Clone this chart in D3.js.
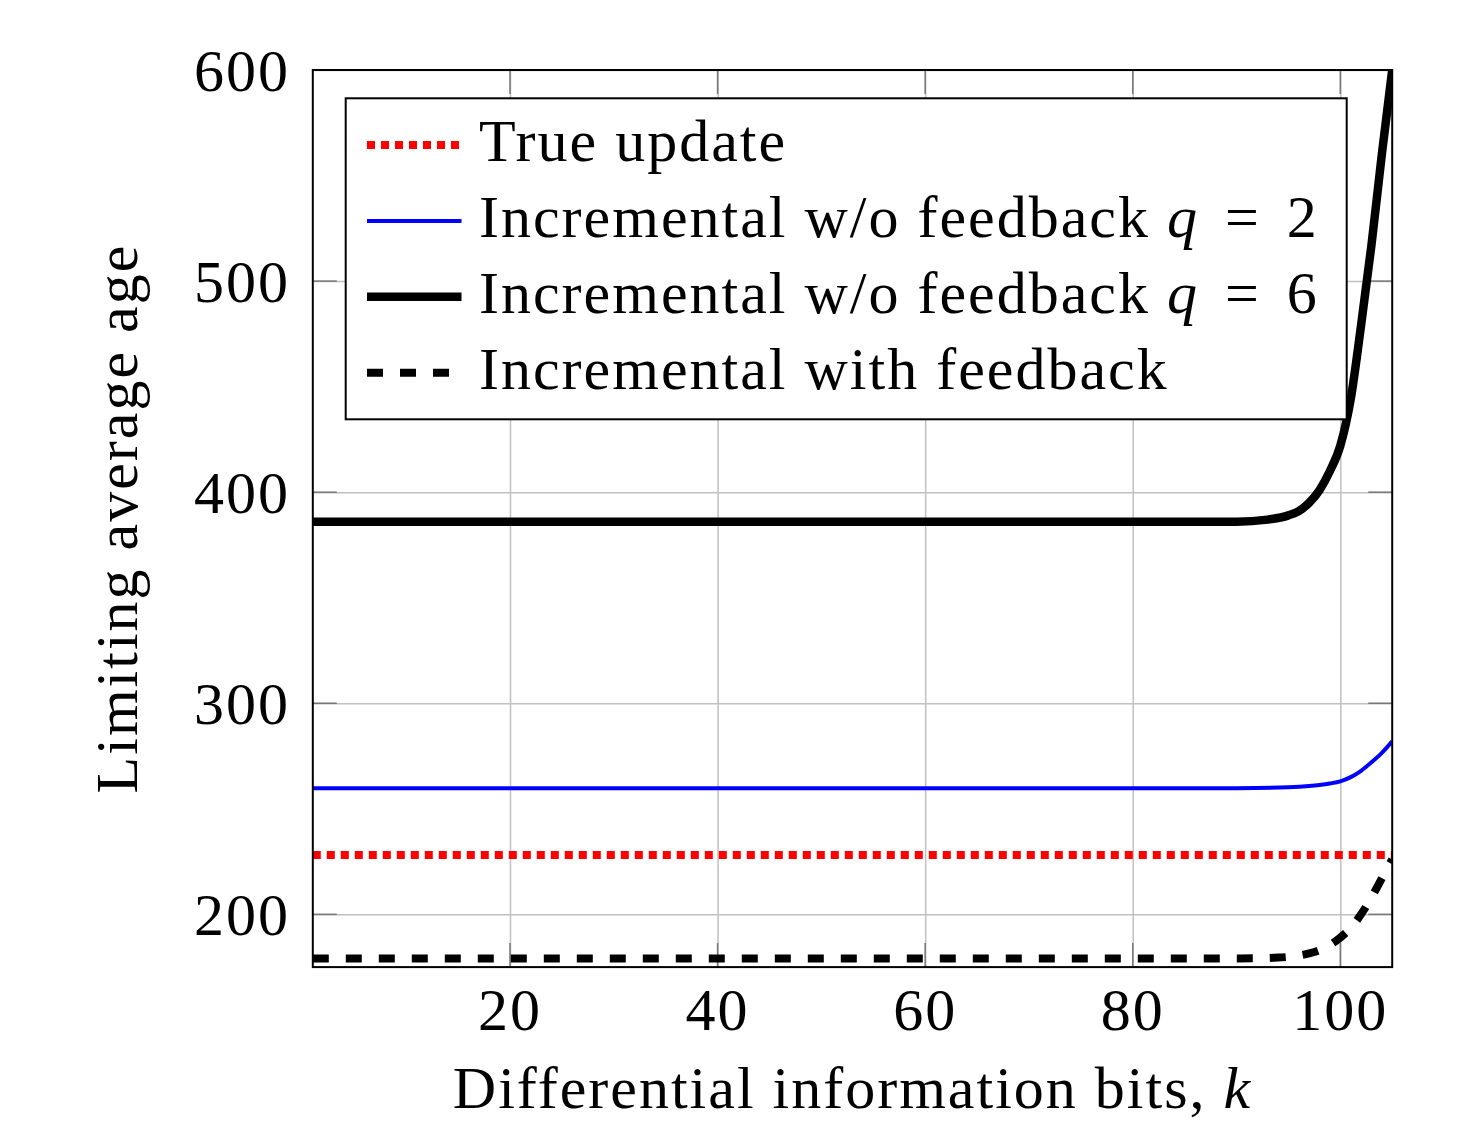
<!DOCTYPE html>
<html>
<head>
<meta charset="utf-8">
<script src="https://cdn.jsdelivr.net/npm/d3@7"></script>
<style>
    body { margin: 0; background: #fff; }
    text { font-family: "Liberation Serif", "Times New Roman", serif; letter-spacing: 2px; white-space: pre; }
</style>
</head>
<body>
<svg id="chart" width="1475" height="1123"></svg>
<script>
// === DATA ===
const xTicks = [20, 40, 60, 80, 100]
const yTicks = [200, 300, 400, 500, 600]

const trueK = [1, 105]
const trueAge = [228.1, 228.1]

const q2K = [1, 90, 95, 97, 98, 99, 100, 101, 102, 103, 104, 105]
const q2Age = [259.7, 259.7, 260.2, 260.8, 261.3, 262, 263, 265, 268, 272, 276.5, 282]

const q6K = [1, 90, 93, 95, 96, 97, 98, 99, 100, 101, 102, 103, 104, 105]
const q6Age = [386, 386, 387, 389, 391, 395, 401, 410, 422, 444, 479, 517, 560, 600]

const fbK = [1, 90, 94, 96, 97, 98, 99, 100, 101, 102, 103, 104, 105]
const fbAge = [179.1, 179.1, 179.5, 180.5, 181.5, 183, 185.5, 189, 193.5, 200, 208, 217, 226]

// === LAYOUT ===
const plot = { left: 312.8, right: 1392.2, top: 70, bottom: 967.1 }
const W = plot.right - plot.left
const H = plot.bottom - plot.top

const svg = d3.select('#chart')
const g = svg.append('g').attr('transform', `translate(${plot.left},${plot.top})`)

const x = d3.scaleLinear().domain([1, 105]).range([0, W])
const y = d3.scaleLinear().domain([175, 600]).range([H, 0])

// grid
g.append('g')
    .attr('transform', `translate(0,${H})`)
    .call(d3.axisBottom(x).tickValues(xTicks).tickSize(-H).tickFormat(''))
    .call(a => a.select('.domain').remove())
    .selectAll('line').attr('stroke', '#c0c0c0').attr('stroke-width', 1.5)

g.append('g')
    .call(d3.axisLeft(y).tickValues(yTicks).tickSize(-W).tickFormat(''))
    .call(a => a.select('.domain').remove())
    .selectAll('line').attr('stroke', '#c0c0c0').attr('stroke-width', 1.5)

// inner ticks on all four sides
const tickLen = 24
const ticks = g.append('g').attr('stroke', '#777').attr('stroke-width', 1.5)
xTicks.forEach(v => {
    ticks.append('line').attr('x1', x(v)).attr('x2', x(v)).attr('y1', H).attr('y2', H - tickLen)
    ticks.append('line').attr('x1', x(v)).attr('x2', x(v)).attr('y1', 0).attr('y2', tickLen)
})
yTicks.forEach(v => {
    ticks.append('line').attr('x1', 0).attr('x2', tickLen).attr('y1', y(v)).attr('y2', y(v))
    ticks.append('line').attr('x1', W).attr('x2', W - tickLen).attr('y1', y(v)).attr('y2', y(v))
})

// tick labels
g.append('g').selectAll('text')
    .data(xTicks).join('text')
    .attr('x', d => x(d)).attr('y', 1030 - plot.top)
    .attr('text-anchor', 'middle')
    .attr('font-size', 60)
    .text(d => d)

g.append('g').selectAll('text')
    .data(yTicks).join('text')
    .attr('x', 290 - plot.left).attr('y', d => y(d) + 21)
    .attr('text-anchor', 'end')
    .attr('font-size', 60)
    .text(d => d)

// clip
svg.append('defs').append('clipPath').attr('id', 'clip')
    .append('rect').attr('width', W).attr('height', H)

const series = [
    { k: trueK, v: trueAge, color: '#ff0000', width: 8, dash: '8 6', label: ['True update'] },
    { k: q2K, v: q2Age, color: '#0000ff', width: 4, dash: null, label: ['Incremental w/o feedback ', 'q', ' = ', '2'] },
    { k: q6K, v: q6Age, color: '#000', width: 8.5, dash: null, label: ['Incremental w/o feedback ', 'q', ' = ', '6'] },
    { k: fbK, v: fbAge, color: '#000', width: 8, dash: '16 17', label: ['Incremental with feedback'] }
]

const line = d3.line()
    .x(d => x(d[0]))
    .y(d => y(d[1]))
    .curve(d3.curveMonotoneX)

const lines = g.append('g').attr('clip-path', 'url(#clip)')
series.forEach(s => {
    lines.append('path')
        .datum(d3.zip(s.k, s.v))
        .attr('d', line)
        .attr('fill', 'none')
        .attr('stroke', s.color)
        .attr('stroke-width', s.width)
        .attr('stroke-dasharray', s.dash)
        .attr('stroke-linejoin', 'round')
})

// frame
g.append('rect')
    .attr('width', W).attr('height', H)
    .attr('fill', 'none').attr('stroke', '#000').attr('stroke-width', 2)

// === LEGEND ===
const lg = svg.append('g')
lg.append('rect')
    .attr('x', 345.7).attr('y', 98.3)
    .attr('width', 1346.7 - 345.7).attr('height', 419.3 - 98.3)
    .attr('fill', '#fff').attr('stroke', '#000').attr('stroke-width', 2)

series.forEach((s, i) => {
    const ly = 145 + i * 75.9
    lg.append('line')
        .attr('x1', 367).attr('x2', 461.5)
        .attr('y1', ly).attr('y2', ly)
        .attr('stroke', s.color)
        .attr('stroke-width', s.width)
        .attr('stroke-dasharray', s.dash)
    const t = lg.append('text')
        .attr('x', 479).attr('y', ly + 16)
        .attr('font-size', 60)
    s.label.forEach((part, j) => {
        t.append('tspan')
            .attr('font-style', j === 1 ? 'italic' : null)
            .attr('dx', j >= 2 ? 9 : null)
            .text(part)
    })
})

// === AXIS TITLES ===
const xt = svg.append('text')
    .attr('x', (plot.left + plot.right) / 2).attr('y', 1108)
    .attr('text-anchor', 'middle')
    .attr('font-size', 60)
xt.append('tspan').text('Differential information bits, ')
xt.append('tspan').attr('font-style', 'italic').text('k')

svg.append('text')
    .attr('transform', `translate(137,${(plot.top + plot.bottom) / 2}) rotate(-90)`)
    .attr('text-anchor', 'middle')
    .attr('font-size', 60)
    .text('Limiting average age')
</script>
</body>
</html>
